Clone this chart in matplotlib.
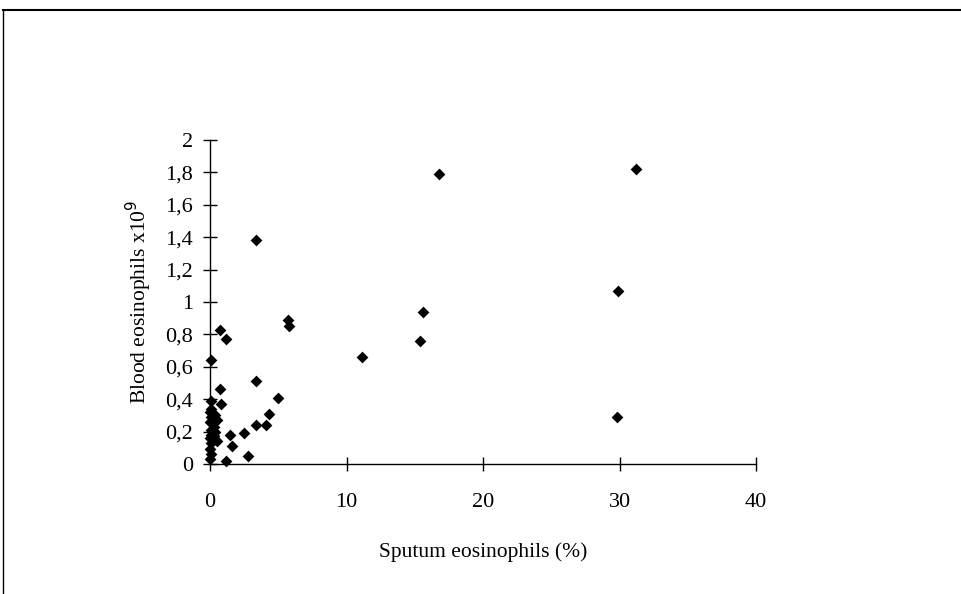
import matplotlib.pyplot as plt
from matplotlib.lines import Line2D

# Sputum eosinophils (%) vs blood eosinophils (x10^9)
sputum = [31.2, 16.8, 3.4, 29.9, 15.6, 15.4, 11.1, 5.7, 5.8, 29.8,
          0.7, 1.2, 0.05, 3.4, 0.7, 5.0, 0.8, 0.05, 4.3, 3.4, 4.1,
          2.5, 1.5, 1.6, 2.8, 1.2,
          0.0, 0.05, 0.0, 0.1, 0.0, 0.05, 0.1, 0.0, 0.05, 0.0, 0.1,
          0.4, 0.5, 0.3, 0.4, 0.5, 0.3]
blood = [1.82, 1.79, 1.38, 1.07, 0.94, 0.76, 0.66, 0.89, 0.85, 0.29,
         0.83, 0.77, 0.64, 0.51, 0.46, 0.41, 0.37, 0.39, 0.31, 0.24, 0.24,
         0.19, 0.18, 0.11, 0.05, 0.02,
         0.03, 0.06, 0.09, 0.13, 0.16, 0.18, 0.21, 0.26, 0.29, 0.32, 0.34,
         0.30, 0.27, 0.23, 0.20, 0.14, 0.17]

x_ticks = [0, 10, 20, 30, 40]
y_ticks = [0, 0.2, 0.4, 0.6, 0.8, 1, 1.2, 1.4, 1.6, 1.8, 2]
y_labels = ["0", "0,2", "0,4", "0,6", "0,8", "1", "1,2", "1,4", "1,6", "1,8", "2"]

plt.rcParams['font.family'] = ['Liberation Serif', 'DejaVu Serif']

fig = plt.figure(figsize=(9.62, 5.94), dpi=100)
ax = fig.add_axes([0.2183, 0.2189, 0.5676, 0.5454])

ax.scatter(sputum, blood, marker="D", s=36, color="black", linewidths=0, clip_on=False, zorder=3)

ax.set_xlim(0, 40)
ax.set_ylim(0, 2)
ax.set_xticks(x_ticks)
ax.set_yticks(y_ticks)
ax.set_yticklabels(y_labels)
ax.tick_params(direction="inout", length=10, width=1, labelsize=16, color="black")
ax.tick_params(axis="x", pad=16)
ax.tick_params(axis="y", pad=7)

for s in ["top", "right"]:
    ax.spines[s].set_visible(False)
for s in ["left", "bottom"]:
    ax.spines[s].set_linewidth(1)
    ax.spines[s].set_color("black")

ax.set_xlabel("Sputum eosinophils (%)", fontsize=15.5, labelpad=22)
ax.set_ylabel("Blood eosinophils x10$^{9}$", fontsize=15.5, labelpad=8)

# outer frame (only top and left edges visible)
fig.add_artist(Line2D([3 / 962, 1], [1 - 10 / 594, 1 - 10 / 594], transform=fig.transFigure, color="black", lw=1.5))
fig.add_artist(Line2D([3 / 962, 3 / 962], [0, 1 - 10 / 594], transform=fig.transFigure, color="black", lw=1))

fig.savefig("out.png", dpi=100)
